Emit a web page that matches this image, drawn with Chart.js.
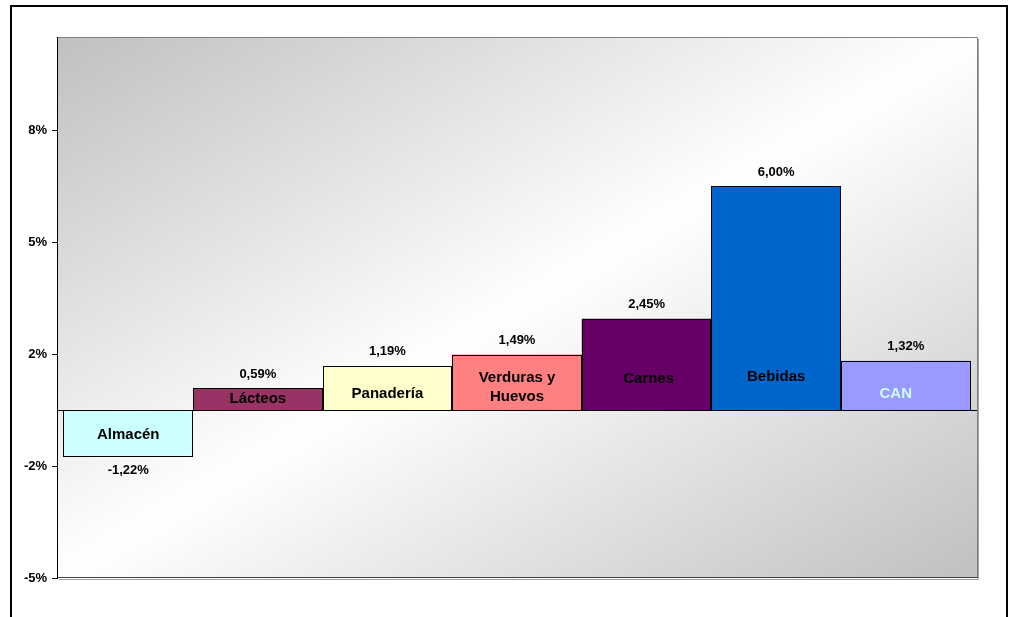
<!DOCTYPE html>
<html>
<head>
<meta charset="utf-8">
<script src="https://cdn.jsdelivr.net/npm/chart.js@4.4.0/dist/chart.umd.min.js"></script>
<style>
  html, body { margin: 0; padding: 0; background: #ffffff; }
  #wrap { width: 1011px; height: 617px; position: relative; }
</style>
</head>
<body>
<div id="wrap"><canvas id="c" width="1011" height="617"></canvas></div>
<script>
// ---- data ----
const categories = ['Almacén', 'Lácteos', 'Panadería', 'Verduras y\nHuevos', 'Carnes', 'Bebidas', 'CAN'];
const values = [-1.22, 0.59, 1.19, 1.49, 2.45, 6.00, 1.32];           // percent
const nameAnchor = [-0.67, 0.31, 0.43, 0.62, 0.85, 0.89, 0.43];        // where the name label sits (percent units)
const tickValues = [-4.5, -1.5, 1.5, 4.5, 7.5];
const tickLabels = ['-5%', '-2%', '2%', '5%', '8%'];
const yMin = -4.5, yMax = 10;

// ---- styles ----
const barColors = ['#ccffff', '#993366', '#ffffcc', '#ff8080', '#660066', '#0066cc', '#9999ff'];
const nameColors = ['#000000', '#000000', '#000000', '#000000', '#000000', '#000000', '#ccffff'];
const nameDx = [0, 0, 0, 0, 2, 0, -10];

const datasets = categories.map((c, i) => ({
  label: c,
  data: [values[i]],
  backgroundColor: barColors[i],
  borderWidth: 0,
  categoryPercentage: 0.986,
  barPercentage: 1
}));

const decorPlugin = {
  id: 'decor',
  beforeDraw(chart) {
    const ctx = chart.ctx;
    const a = chart.chartArea;
    ctx.save();
    ctx.fillStyle = '#ffffff';
    ctx.fillRect(0, 0, chart.width, chart.height);
    // outer frame
    ctx.strokeStyle = '#000000';
    ctx.lineWidth = 2;
    ctx.beginPath();
    ctx.moveTo(11, 640);
    ctx.lineTo(11, 6);
    ctx.lineTo(1007, 6);
    ctx.lineTo(1007, 640);
    ctx.stroke();
    // plot area gradient (diagonal)
    const W = a.right - a.left, H = a.bottom - a.top;
    const cx = (a.left + a.right) / 2, cy = (a.top + a.bottom) / 2;
    const k = (W * H) / (W * W + H * H);
    const g = ctx.createLinearGradient(cx - H * k, cy - W * k, cx + H * k, cy + W * k);
    g.addColorStop(0, '#c0c0c0');
    g.addColorStop(0.5, '#ffffff');
    g.addColorStop(1, '#c0c0c0');
    ctx.fillStyle = g;
    ctx.fillRect(a.left, a.top, W, H);
    // shadow right/bottom
    ctx.strokeStyle = '#a0a0a0';
    ctx.lineWidth = 1;
    ctx.beginPath();
    ctx.moveTo(a.right + 1.5, a.top + 2);
    ctx.lineTo(a.right + 1.5, a.bottom + 1.5);
    ctx.lineTo(a.left + 2, a.bottom + 1.5);
    ctx.stroke();
    // plot border
    ctx.strokeStyle = '#808080';
    ctx.beginPath();
    ctx.moveTo(a.left, a.top + 0.5);
    ctx.lineTo(a.right + 0.5, a.top + 0.5);
    ctx.lineTo(a.right + 0.5, a.bottom);
    ctx.stroke();
    ctx.strokeStyle = '#404040';
    ctx.beginPath();
    ctx.moveTo(a.left, a.bottom - 0.5);
    ctx.lineTo(a.right + 1, a.bottom - 0.5);
    ctx.stroke();
    ctx.restore();
  },
  afterDatasetsDraw(chart) {
    const ctx = chart.ctx;
    const a = chart.chartArea;
    const ys = chart.scales.y;
    ctx.save();
    // crisp black outlines around the library's bars
    ctx.strokeStyle = '#000000';
    ctx.lineWidth = 1;
    chart.data.datasets.forEach((ds, i) => {
      const bar = chart.getDatasetMeta(i).data[0];
      const x1 = Math.round(bar.x - bar.width / 2) + 0.5;
      const x2 = Math.round(bar.x + bar.width / 2) - 0.5;
      const yA = Math.round(Math.min(bar.y, bar.base)) + 0.5;
      const yB = Math.round(Math.max(bar.y, bar.base)) + 0.5;
      ctx.strokeRect(x1, yA, x2 - x1, yB - yA);
    });
    // zero line
    const y0 = Math.round(ys.getPixelForValue(0)) + 0.5;
    ctx.beginPath();
    ctx.moveTo(a.left, y0);
    ctx.lineTo(a.right, y0);
    ctx.stroke();
    ctx.textAlign = 'center';
    ctx.textBaseline = 'middle';
    chart.data.datasets.forEach((ds, i) => {
      const bar = chart.getDatasetMeta(i).data[0];
      const v = values[i];
      // value label
      ctx.font = 'bold 13px Arial, "Liberation Sans", sans-serif';
      ctx.fillStyle = '#000000';
      const txt = v.toFixed(2).replace('.', ',') + '%';
      const ty = v >= 0 ? bar.y - 14 : bar.y + 15;
      ctx.fillText(txt, bar.x, ty);
      // name label
      ctx.font = 'bold 15px Arial, "Liberation Sans", sans-serif';
      ctx.fillStyle = nameColors[i];
      const lines = categories[i].split('\n');
      const cyv = ys.getPixelForValue(nameAnchor[i]);
      const lh = 19;
      lines.forEach((ln, j) => {
        ctx.fillText(ln, bar.x + nameDx[i], cyv + (j - (lines.length - 1) / 2) * lh);
      });
    });
    ctx.restore();
  }
};

new Chart(document.getElementById('c'), {
  type: 'bar',
  data: { labels: [''], datasets },
  plugins: [decorPlugin],
  options: {
    responsive: false,
    animation: false,
    layout: { padding: { left: 0, top: 37, right: 34, bottom: 39 } },
    plugins: { legend: { display: false }, tooltip: { enabled: false } },
    scales: {
      x: { display: false, offset: true },
      y: {
        min: yMin,
        max: yMax,
        afterBuildTicks(scale) { scale.ticks = tickValues.map(v => ({ value: v })); },
        afterFit(scale) { scale.width = 57; },
        ticks: {
          callback(value, index) { return tickLabels[index]; },
          color: '#000000',
          font: { family: 'Arial, "Liberation Sans", sans-serif', size: 13, weight: 'bold' },
          padding: 5
        },
        grid: { drawOnChartArea: false, drawTicks: true, tickLength: 5, color: '#000000' },
        border: { display: true, color: '#000000', width: 1 }
      }
    }
  }
});
</script>
</body>
</html>
